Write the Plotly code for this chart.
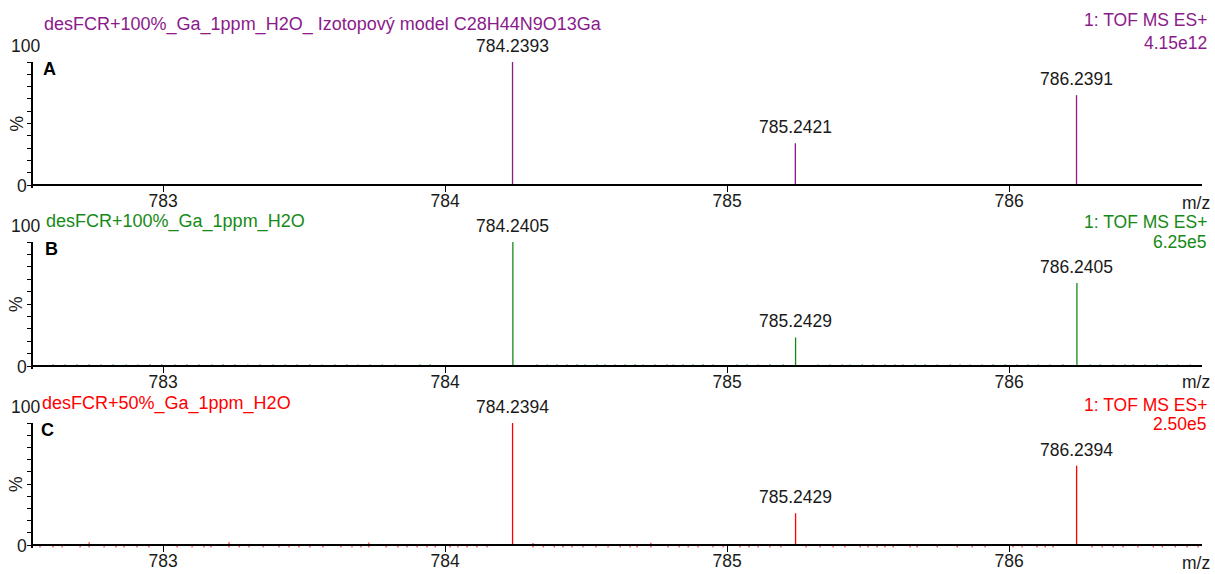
import plotly.graph_objects as go

# m/z window and labelled ticks shared by all three spectra
MZ_MIN, MZ_MAX = 782.539, 786.684
X_TICKS = [783, 784, 785, 786]

# A: isotope model C28H44N9O13Ga
a_mz = [784.2393, 785.2421, 786.2391]
a_int = [100, 34, 73]

# B: desFCR + 100 % Ga
b_mz = [784.2405, 785.2429, 786.2405]
b_int = [100, 23, 67]
b_noise_mz = [782.610, 782.652, 782.695, 782.738, 782.780, 782.823, 782.869, 782.911,
              782.954, 782.996, 783.043, 783.085, 783.128, 783.174, 783.213, 783.255,
              783.301, 783.344, 783.390, 783.433, 783.475, 783.521, 783.564, 783.610,
              783.652, 783.691, 783.734, 783.777, 783.823, 783.911, 783.947, 784.326,
              784.362, 784.397, 784.433, 784.468, 784.496, 784.539, 784.567, 784.603,
              784.638, 784.674, 784.702, 784.745, 784.787, 784.809, 784.844, 784.879,
              784.915, 784.950, 785.035, 785.071, 785.110, 785.152, 785.199, 785.323,
              785.365, 785.408, 785.436, 785.479, 785.518, 785.560, 785.596, 785.624,
              785.667, 785.702, 785.745, 785.791, 785.826, 785.862, 785.904, 785.943,
              785.986, 786.028, 786.067, 786.103, 786.145, 786.191, 786.287, 786.323,
              786.369, 786.411, 786.440, 786.482, 786.525, 786.560, 786.599, 786.642]
b_noise_int = [1.4, 1.3, 1.4, 1.5, 1.3, 1.4, 1.4, 1.3, 1.5, 1.4, 1.3, 1.4, 1.4, 1.3,
               1.5, 1.4, 1.3, 1.4, 1.4, 1.3, 1.4, 1.5, 1.3, 1.4, 1.4, 1.3, 1.4, 1.4,
               1.3, 1.4, 1.5, 1.4, 1.3, 1.4, 1.4, 1.5, 1.3, 1.4, 1.4, 1.3, 1.4, 1.5,
               1.3, 1.4, 1.4, 1.3, 1.4, 1.4, 1.5, 1.3, 1.4, 1.4, 1.3, 1.5, 1.4, 1.3,
               1.4, 1.4, 1.3, 1.5, 1.4, 1.4, 1.3, 1.4, 1.4, 1.5, 1.3, 1.4, 1.4, 1.3,
               1.4, 1.5, 1.4, 1.3, 1.4, 1.4, 1.3, 1.5, 1.4, 1.4, 1.3, 1.4, 1.4, 1.3,
               1.5, 1.4, 1.4, 1.3]

# C: desFCR + 50 % Ga
c_mz = [784.2394, 785.2429, 786.2394]
c_int = [100, 26, 65]
c_noise_mz = [782.564, 782.610, 782.642, 782.706, 782.738, 782.791, 782.833, 782.862,
              782.908, 782.950, 783.050, 783.103, 783.145, 783.170, 783.234, 783.270,
              783.305, 783.355, 783.411, 783.447, 783.482, 783.521, 783.567, 783.631,
              783.670, 783.702, 783.730, 783.791, 783.833, 783.865, 783.901, 783.936,
              783.965, 784.018, 784.046, 784.078, 784.113, 784.149, 784.312, 784.348,
              784.387, 784.418, 784.450, 784.489, 784.535, 784.578, 784.621, 784.656,
              784.681, 784.730, 784.791, 784.830, 784.862, 784.897, 784.950, 784.986,
              785.046, 785.078, 785.110, 785.152, 785.191, 785.280, 785.330, 785.376,
              785.418, 785.472, 785.500, 785.532, 785.560, 785.589, 785.649, 785.674,
              785.745, 785.816, 785.869, 785.915, 786.014, 786.046, 786.099, 786.128,
              786.156, 786.294, 786.330, 786.369, 786.404, 786.457, 786.511, 786.543,
              786.589, 786.631, 786.670]
c_noise_int = [0.3, 0.3, 0.2, 0.3, 2.3, 0.3, 0.2, 0.3, 0.3, 0.2, 0.3, 0.3, 0.2, 0.3,
               2.3, 0.3, 0.9, 0.3, 0.2, 0.3, 0.3, 0.2, 0.3, 0.3, 0.3, 0.2, 2.0, 0.3,
               0.3, 0.2, 0.3, 0.3, 0.2, 0.3, 0.3, 0.2, 0.3, 0.3, 1.6, 0.3, 0.2, 0.3,
               0.3, 0.2, 0.3, 0.3, 0.2, 0.3, 0.3, 1.8, 0.3, 0.2, 0.3, 0.3, 0.2, 0.3,
               0.3, 0.2, 0.3, 0.3, 0.2, 0.3, 0.3, 0.2, 0.3, 0.3, 0.2, 0.3, 0.3, 0.2,
               0.3, 0.3, 0.2, 0.3, 0.3, 0.2, 0.3, 0.3, 0.2, 0.3, 0.3, 0.2, 0.3, 0.3,
               0.2, 0.3, 0.3, 0.2, 0.3, 0.3, 0.3]

FONT = "Liberation Sans, Arial, Helvetica, sans-serif"
TXT = 17.5
W, H = 1215, 574
X_DOMAIN = [33 / W, 1202 / W]


def py(px):
    """Pixel row (from the top) to paper coordinate."""
    return 1 - px / H


panels = [
    dict(tag="A", color="#8B1A8B",
         title="desFCR+100%_Ga_1ppm_H2O_ Izotopový model C28H44N9O13Ga",
         scale="4.15e12", mz=a_mz, inten=a_int, noise_mz=[], noise_int=[], noise_base=0,
         top=62, zero=185, title_y=25, title_x=42, hdr_y=20, scale_y=43,
         mz_label_y=203),
    dict(tag="B", color="#168A16", title="desFCR+100%_Ga_1ppm_H2O",
         scale="6.25e5", mz=b_mz, inten=b_int, noise_mz=b_noise_mz,
         noise_int=b_noise_int, noise_base=0,
         top=242, zero=366, title_y=222, title_x=44, hdr_y=222, scale_y=242,
         mz_label_y=382),
    dict(tag="C", color="#FF0000", title="desFCR+50%_Ga_1ppm_H2O",
         scale="2.50e5", mz=c_mz, inten=c_int, noise_mz=c_noise_mz,
         noise_int=c_noise_int, noise_base=-2.0,
         top=423, zero=545, title_y=403, title_x=40, hdr_y=405, scale_y=424,
         mz_label_y=563),
]

Y_MIN = -2.5

fig = go.Figure()
annotations = []
layout = {}

for i, p in enumerate(panels, start=1):
    sfx = "" if i == 1 else str(i)
    xref, yref = f"x{sfx}", f"y{sfx}"
    px_per_pct = (p["zero"] - p["top"]) / 100
    bottom_px = p["zero"] - Y_MIN * px_per_pct

    # baseline noise stems
    if p["noise_mz"]:
        nx, ny = [], []
        for m, v in zip(p["noise_mz"], p["noise_int"]):
            nx += [m, m, None]
            ny += [p["noise_base"], v, None]
        fig.add_trace(go.Scatter(x=nx, y=ny, mode="lines", xaxis=xref, yaxis=yref,
                                 line=dict(color=p["color"], width=1),
                                 hoverinfo="skip"))

    # isotope peaks
    sx, sy = [], []
    for m, v in zip(p["mz"], p["inten"]):
        sx += [m, m, None]
        sy += [0, v, None]
    fig.add_trace(go.Scatter(x=sx, y=sy, mode="lines", xaxis=xref, yaxis=yref,
                             line=dict(color=p["color"], width=1.3)))

    # peak m/z labels
    for m, v in zip(p["mz"], p["inten"]):
        annotations.append(dict(x=m, y=v, xref=xref, yref=yref, text=f"{m:.4f}",
                                showarrow=False, xanchor="center", yanchor="middle",
                                yshift=16, font=dict(family=FONT, size=TXT,
                                                     color="#1a1a1a")))

    layout[f"xaxis{sfx}"] = dict(
        domain=X_DOMAIN, range=[MZ_MIN, MZ_MAX], anchor="free", position=py(p["zero"]),
        showline=True, linecolor="black", linewidth=1.5, ticks="outside",
        ticklen=6, tickwidth=1.3, tickcolor="black", tickvals=X_TICKS,
        ticklabelstandoff=-6,
        showgrid=False, zeroline=False, layer="above traces",
        tickfont=dict(family=FONT, size=TXT, color="#1a1a1a"), fixedrange=True)
    layout[f"yaxis{sfx}"] = dict(
        domain=[py(bottom_px), py(p["top"])], range=[Y_MIN, 100], anchor=xref,
        showline=True, linecolor="black", linewidth=1.5, ticks="outside",
        ticklen=4, tickwidth=1.2, tickcolor="black", tick0=0, dtick=10,
        showticklabels=False, showgrid=False, zeroline=False, layer="above traces",
        fixedrange=True)

    # header texts
    annotations += [
        dict(x=p["title_x"] / W, y=py(p["title_y"]), xref="paper", yref="paper",
             text=p["title"], showarrow=False, xanchor="left", yanchor="middle",
             font=dict(family=FONT, size=18, color=p["color"])),
        dict(x=1209 / W, y=py(p["hdr_y"]), xref="paper", yref="paper",
             text="1: TOF MS ES+", showarrow=False, xanchor="right", yanchor="middle",
             font=dict(family=FONT, size=TXT, color=p["color"])),
        dict(x=1209 / W, y=py(p["scale_y"]), xref="paper", yref="paper",
             text=p["scale"], showarrow=False, xanchor="right", yanchor="middle",
             font=dict(family=FONT, size=TXT, color=p["color"])),
        dict(x=p["title_x"] / W - 0.0005, y=py(p["top"] + 7), xref="paper", yref="paper",
             text=f"<b>{p['tag']}</b>", showarrow=False, xanchor="left",
             yanchor="middle", font=dict(family=FONT, size=18, color="black")),
        dict(x=42 / W, y=py(p["top"] - 16), xref="paper", yref="paper", text="100",
             showarrow=False, xanchor="right", yanchor="middle",
             font=dict(family=FONT, size=TXT, color="#1a1a1a")),
        dict(x=29 / W, y=py(p["zero"] + 1), xref="paper", yref="paper", text="0",
             showarrow=False, xanchor="right", yanchor="middle",
             font=dict(family=FONT, size=TXT, color="#1a1a1a")),
        dict(x=16 / W, y=py((p["top"] + p["zero"]) / 2), xref="paper", yref="paper",
             text="%", textangle=-90, showarrow=False, xanchor="center",
             yanchor="middle", font=dict(family=FONT, size=TXT, color="#1a1a1a")),
        dict(x=1212 / W, y=py(p["mz_label_y"]), xref="paper", yref="paper",
             text="m/z", showarrow=False, xanchor="right", yanchor="middle",
             font=dict(family=FONT, size=TXT, color="#1a1a1a")),
    ]

fig.update_layout(
    width=W, height=H, margin=dict(l=0, r=0, t=0, b=0),
    paper_bgcolor="white", plot_bgcolor="white", showlegend=False,
    annotations=annotations, font=dict(family=FONT), hovermode=False,
    **layout,
)

fig.write_html("out.html", config={"displayModeBar": False})
